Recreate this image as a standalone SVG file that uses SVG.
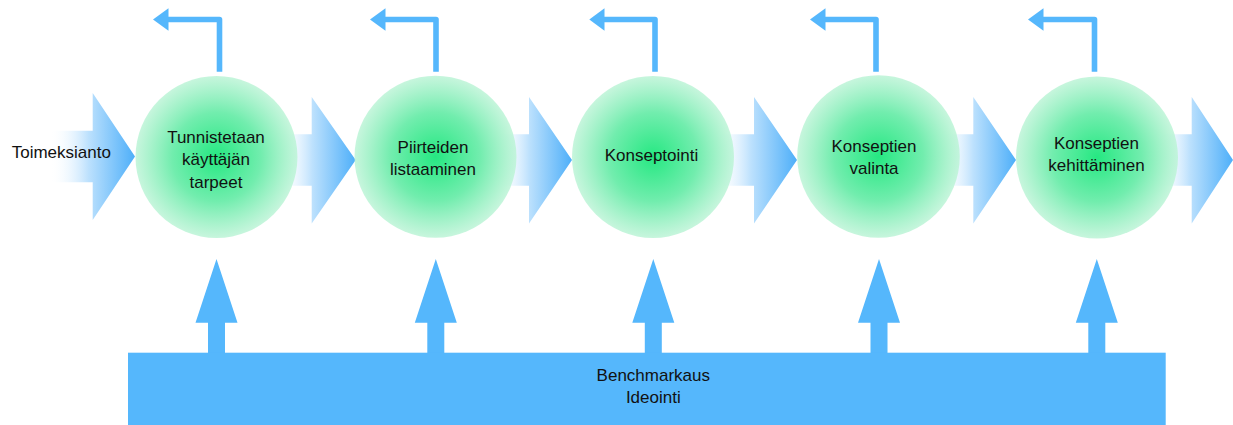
<svg xmlns="http://www.w3.org/2000/svg" width="1233" height="425" viewBox="0 0 1233 425">
<defs>
<linearGradient id="flow" x1="0" y1="0" x2="1" y2="0">
<stop offset="0" stop-color="#ffffff" stop-opacity="0"/>
<stop offset="0.45" stop-color="#bde1fd"/>
<stop offset="1" stop-color="#4eaff9"/>
</linearGradient>
<radialGradient id="ball" cx="0.5" cy="0.5" r="0.5">
<stop offset="0" stop-color="#26e882"/>
<stop offset="0.55" stop-color="#72edae"/>
<stop offset="1" stop-color="#bdf4d7" stop-opacity="0.85"/>
</radialGradient>
<style>
.lbl{font-family:"Liberation Sans",Arial,sans-serif;font-size:17px;fill:#111;text-anchor:middle}
.blue{fill:#55b7fc}
.fb{fill:none;stroke:#55b7fc;stroke-width:5.6;stroke-linejoin:round}
</style>
</defs>

<g id="connectors">
<polygon fill="url(#flow)" points="50,130.8 92.7,130.8 92.7,93 135,156.5 92.7,220 92.7,182.2 50,182.2"/>
<polygon fill="url(#flow)" points="277,134.3 311.7,134.3 311.7,97 355.7,160 311.7,223.5 311.7,185.7 277,185.7"/>
<polygon fill="url(#flow)" points="494,134.3 529,134.3 529,97 572,160 529,223.5 529,185.7 494,185.7"/>
<polygon fill="url(#flow)" points="713,134.3 754,134.3 754,97 797,160 754,223.5 754,185.7 713,185.7"/>
<polygon fill="url(#flow)" points="938,134.3 973.3,134.3 973.3,97 1016,160 973.3,223.5 973.3,185.7 938,185.7"/>
<polygon fill="url(#flow)" points="1154,134.3 1191.7,134.3 1191.7,97 1233,160 1191.7,223.5 1191.7,185.7 1154,185.7"/>
<path class="fb" d="M219.5,71.7 V19.5 H166"/>
<polygon class="blue" points="153,19.5 168.5,8.3 168.5,30.7"/>
<path class="fb" d="M436,71.7 V19.5 H383"/>
<polygon class="blue" points="370,19.5 385.5,8.3 385.5,30.7"/>
<path class="fb" d="M655,71.7 V19.5 H602"/>
<polygon class="blue" points="589.3,19.5 604.5,8.3 604.5,30.7"/>
<path class="fb" d="M876,71.7 V19.5 H823"/>
<polygon class="blue" points="810,19.5 825.5,8.3 825.5,30.7"/>
<path class="fb" d="M1094.5,71.7 V19.5 H1041"/>
<polygon class="blue" points="1028,19.5 1043.5,8.3 1043.5,30.7"/>
<polygon class="blue" points="216.5,259 237.5,322.7 225,322.7 225,356 208,356 208,322.7 195.5,322.7"/>
<polygon class="blue" points="435.8,259 456.8,322.7 444.3,322.7 444.3,356 427.3,356 427.3,322.7 414.8,322.7"/>
<polygon class="blue" points="653.3,259 674.3,322.7 661.8,322.7 661.8,356 644.8,356 644.8,322.7 632.3,322.7"/>
<polygon class="blue" points="879,259 900,322.7 887.5,322.7 887.5,356 870.5,356 870.5,322.7 858,322.7"/>
<polygon class="blue" points="1096.8,259 1117.8,322.7 1105.3,322.7 1105.3,356 1088.3,356 1088.3,322.7 1075.8,322.7"/>
</g>

<g id="start">
<text class="lbl" x="11.7" y="158.3" style="text-anchor:start">Toimeksianto</text>
</g>

<g id="node1">
<circle cx="216.5" cy="157" r="81" fill="url(#ball)"/>
<text class="lbl" x="216" y="143">Tunnistetaan</text>
<text class="lbl" x="216" y="165.3">käyttäjän</text>
<text class="lbl" x="216" y="187.5">tarpeet</text>
</g>
<g id="node2">
<circle cx="435.5" cy="156.7" r="81" fill="url(#ball)"/>
<text class="lbl" x="433" y="152.7">Piirteiden</text>
<text class="lbl" x="433" y="175">listaaminen</text>
</g>
<g id="node3">
<circle cx="653" cy="157" r="81" fill="url(#ball)"/>
<text class="lbl" x="651.5" y="161">Konseptointi</text>
</g>
<g id="node4">
<circle cx="878.5" cy="156.5" r="81.3" fill="url(#ball)"/>
<text class="lbl" x="874" y="152.3">Konseptien</text>
<text class="lbl" x="874" y="174.3">valinta</text>
</g>
<g id="node5">
<circle cx="1097" cy="157.5" r="81" fill="url(#ball)"/>
<text class="lbl" x="1096.5" y="149">Konseptien</text>
<text class="lbl" x="1096.5" y="171">kehittäminen</text>
</g>

<g id="base">
<rect class="blue" x="128" y="352.7" width="1037.7" height="72.3"/>
<text class="lbl" x="653.3" y="381">Benchmarkaus</text>
<text class="lbl" x="653.3" y="402.7">Ideointi</text>
</g>
</svg>
